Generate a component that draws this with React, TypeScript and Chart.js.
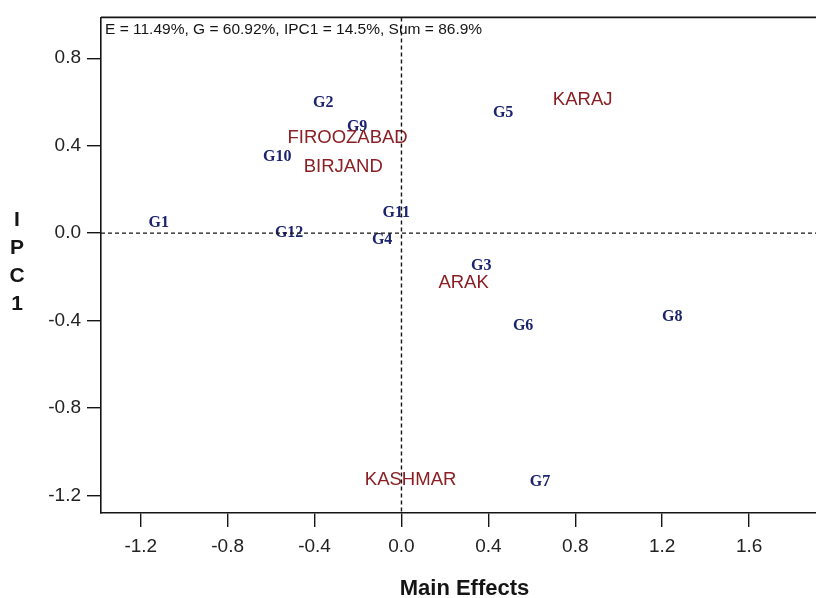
import React, { useEffect, useRef } from "react";
import { Chart, registerables } from "chart.js";

Chart.register(...registerables);

// ---- data ----
const genotypes = ["G1", "G2", "G3", "G4", "G5", "G6", "G7", "G8", "G9", "G10", "G11", "G12"];
const genoMain = [-1.117, -0.36, 0.367, -0.089, 0.468, 0.56, 0.638, 1.246, -0.204, -0.572, -0.024, -0.517];
const genoIPC1 = [0.045, 0.598, -0.149, -0.029, 0.552, -0.423, -1.139, -0.385, 0.487, 0.349, 0.093, 0.0];

const environments = ["KARAJ", "FIROOZABAD", "BIRJAND", "ARAK", "KASHMAR"];
const envMain = [0.834, -0.248, -0.268, 0.286, 0.042];
const envIPC1 = [0.611, 0.435, 0.303, -0.226, -1.129];

const xTicks = [-1.2, -0.8, -0.4, 0.0, 0.4, 0.8, 1.2, 1.6];
const yTicks = [-1.2, -0.8, -0.4, 0.0, 0.4, 0.8];
const xRange = [-1.383, 1.908];
const yRange = [-1.281, 0.987];

const headerText = "E = 11.49%, G = 60.92%, IPC1 = 14.5%, Sum = 86.9%";
const xTitle = "Main Effects";
const yTitleLetters = ["I", "P", "C", "1"];

const GENO_COLOR = "#1c2470";
const ENV_COLOR = "#8a1f24";
const AXIS_COLOR = "#151515";

const overlayPlugin = {
  id: "biplotOverlay",
  afterDatasetsDraw(chart: any) {
    const { ctx, chartArea, scales } = chart;
    const xs = scales.x;
    const ys = scales.y;
    ctx.save();

    // header text inside plot
    ctx.fillStyle = AXIS_COLOR;
    ctx.font = '15.5px "Liberation Sans", Arial, sans-serif';
    ctx.textAlign = "left";
    ctx.textBaseline = "middle";
    ctx.fillText(headerText, chartArea.left + 4, chartArea.top + 12);

    // genotype labels
    const gMeta = chart.getDatasetMeta(0);
    ctx.font = 'bold 16px "Liberation Serif", "Times New Roman", serif';
    ctx.fillStyle = GENO_COLOR;
    ctx.textAlign = "center";
    ctx.textBaseline = "middle";
    gMeta.data.forEach((pt: any, i: number) => {
      ctx.fillText(genotypes[i], pt.x, pt.y);
    });

    // environment labels
    const eMeta = chart.getDatasetMeta(1);
    ctx.font = '18.5px "Liberation Sans", Arial, sans-serif';
    ctx.fillStyle = ENV_COLOR;
    eMeta.data.forEach((pt: any, i: number) => {
      ctx.fillText(environments[i], pt.x, pt.y);
    });

    // dashed zero lines
    ctx.strokeStyle = AXIS_COLOR;
    ctx.lineWidth = 1.4;
    ctx.setLineDash([4, 3]);
    const x0 = xs.getPixelForValue(0);
    const y0 = ys.getPixelForValue(0);
    ctx.beginPath();
    ctx.moveTo(x0, chartArea.top);
    ctx.lineTo(x0, chartArea.bottom);
    ctx.moveTo(chartArea.left, y0);
    ctx.lineTo(chartArea.right, y0);
    ctx.stroke();
    ctx.setLineDash([]);

    // top border
    ctx.lineWidth = 1.6;
    ctx.beginPath();
    ctx.moveTo(chartArea.left, chartArea.top);
    ctx.lineTo(chartArea.right, chartArea.top);
    ctx.stroke();

    // axis titles
    ctx.fillStyle = AXIS_COLOR;
    ctx.font = 'bold 22px "Liberation Sans", Arial, sans-serif';
    ctx.textAlign = "center";
    ctx.textBaseline = "middle";
    ctx.fillText(xTitle, (chartArea.left + chartArea.right) / 2 + 6, 589);

    ctx.font = 'bold 21px "Liberation Sans", Arial, sans-serif';
    yTitleLetters.forEach((ch, i) => {
      ctx.fillText(ch, 17, 220 + i * 28);
    });

    ctx.restore();
  },
};

export default function App() {
  const canvasRef = useRef<HTMLCanvasElement | null>(null);

  useEffect(() => {
    if (!canvasRef.current) return;
    const chart = new Chart(canvasRef.current, {
      type: "scatter",
      data: {
        datasets: [
          {
            label: "Genotypes",
            data: genotypes.map((_, i) => ({ x: genoMain[i], y: genoIPC1[i] })),
            pointRadius: 0,
            pointHoverRadius: 0,
          },
          {
            label: "Environments",
            data: environments.map((_, i) => ({ x: envMain[i], y: envIPC1[i] })),
            pointRadius: 0,
            pointHoverRadius: 0,
          },
        ],
      },
      options: {
        animation: false,
        responsive: false,
        devicePixelRatio: 1,
        layout: { padding: { top: 12, right: 0, left: 0, bottom: 0 } },
        plugins: {
          legend: { display: false },
          tooltip: { enabled: false },
          title: { display: false },
        },
        scales: {
          x: {
            type: "linear",
            min: xRange[0],
            max: xRange[1],
            afterBuildTicks: (scale: any) => {
              scale.ticks = xTicks.map((v) => ({ value: v }));
            },
            afterFit: (scale: any) => {
              scale.height = 85;
            },
            border: { display: true, color: AXIS_COLOR, width: 1.6 },
            grid: {
              drawOnChartArea: false,
              drawTicks: true,
              tickLength: 14,
              color: AXIS_COLOR,
              lineWidth: 1.4,
            },
            ticks: {
              color: "#222",
              padding: 8,
              maxRotation: 0,
              autoSkip: false,
              font: { family: '"Liberation Sans", Arial, sans-serif', size: 19 },
              callback: (v: any) => Number(v).toFixed(1),
            },
            title: { display: false },
          },
          y: {
            type: "linear",
            min: yRange[0],
            max: yRange[1],
            afterBuildTicks: (scale: any) => {
              scale.ticks = yTicks.map((v) => ({ value: v }));
            },
            afterFit: (scale: any) => {
              scale.width = 101;
            },
            border: { display: true, color: AXIS_COLOR, width: 1.6 },
            grid: {
              drawOnChartArea: false,
              drawTicks: true,
              tickLength: 14,
              color: AXIS_COLOR,
              lineWidth: 1.4,
            },
            ticks: {
              color: "#222",
              padding: 6,
              autoSkip: false,
              font: { family: '"Liberation Sans", Arial, sans-serif', size: 19 },
              callback: (v: any) => Number(v).toFixed(1),
            },
            title: { display: false },
          },
        },
      },
      plugins: [overlayPlugin],
    });
    return () => chart.destroy();
  }, []);

  return (
    <div style={{ position: "absolute", left: 0, top: 0, width: 816, height: 598, background: "#fff" }}>
      <canvas ref={canvasRef} width={816} height={598} style={{ display: "block" }} />
    </div>
  );
}
